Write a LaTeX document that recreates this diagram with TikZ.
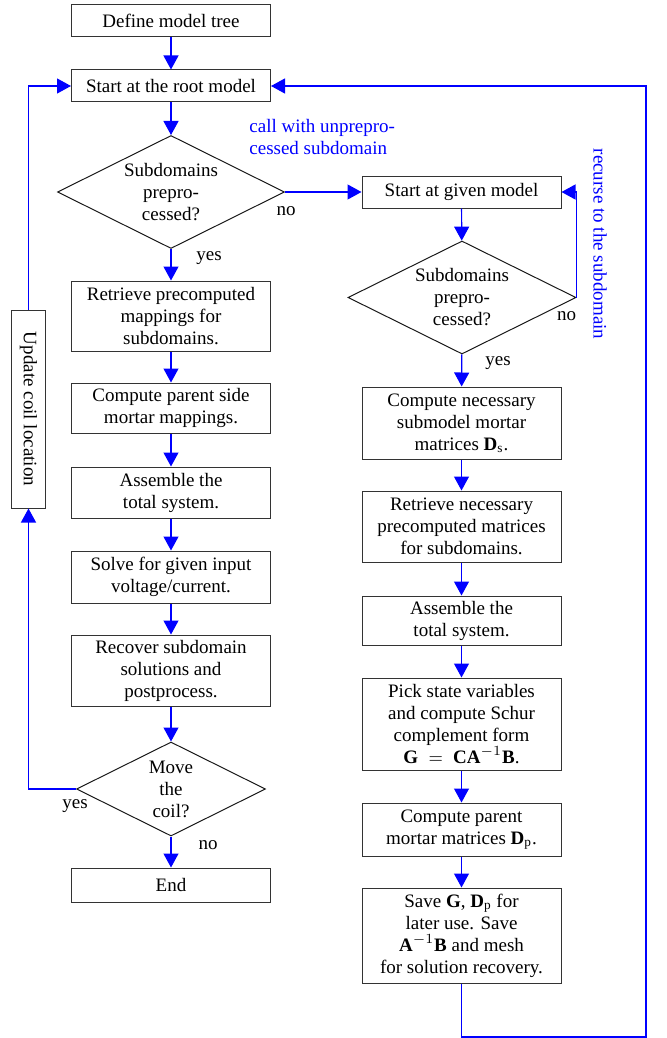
\documentclass[tikz,border=0pt]{standalone}
\usepackage{fontspec}
\setmainfont{Liberation Serif}
\usetikzlibrary{arrows.meta,shapes.geometric}

\begin{document}
\begin{tikzpicture}[x=0.5pt,y=-0.5pt,
  every node/.style={font=\fontsize{9.5}{11}\selectfont},
  box/.style={draw=black!80,line width=0.5pt,minimum width=99.5pt,inner sep=1pt,align=center},
  decide/.style={diamond,aspect=2,draw=black!90,line width=0.5pt,inner sep=0pt,align=center},
  flow/.style={draw=blue,line width=0.6pt,-{Triangle[length=7pt,width=7.5pt]}},
  lbl/.style={inner sep=0pt},
  note/.style={text=blue,inner sep=0pt}]
\useasboundingbox (0,0) rectangle (667,1038);

\node[box,minimum height=16pt] (tree) at (171,21) {Define model tree};
\node[box,minimum height=16pt] (root) at (171,86) {Start at the root model};
\node[decide,minimum width=113.5pt,minimum height=56.5pt] (sub1) at (171,192)
  {Subdomains\\ prepro-\\ cessed?};
\node[box,minimum height=35pt] (retr) at (171,316)
  {Retrieve precomputed\\ mappings for\\ subdomains.};
\node[box,minimum height=25pt] (parent) at (171,408)
  {Compute parent side\\ mortar mappings.};
\node[box,minimum height=25.5pt] (asm1) at (171,492.5)
  {Assemble the\\ total system.};
\node[box,minimum height=26pt] (solve) at (171,577)
  {Solve for given input\\ voltage/current.};
\node[box,minimum height=35.5pt] (recover) at (171,670.5)
  {Recover subdomain\\ solutions and\\ postprocess.};
\node[decide,minimum width=94.5pt,minimum height=47pt] (move) at (171,789)
  {Move\\ the\\ coil?};
\node[box,minimum height=17pt] (stop) at (171,885) {End};
\node[box,minimum width=16.75pt,minimum height=99pt] (coil) at (28.5,409)
  {\rotatebox{-90}{Update coil location}};

\node[box,minimum height=16pt] (given) at (461.5,192) {Start at given model};
\node[decide,minimum width=114pt,minimum height=56.5pt] (sub2) at (462,297.5)
  {Subdomains\\ prepro-\\ cessed?};
\node[box,minimum height=36pt] (mortar) at (461.5,423)
  {Compute necessary\\ submodel mortar\\ matrices $\mathbf{D}_\mathrm{s}$.};
\node[box,minimum height=35.5pt] (retr2) at (461.5,526.5)
  {Retrieve necessary\\ precomputed matrices\\ for subdomains.};
\node[box,minimum height=24.5pt] (asm2) at (461.5,620.5)
  {Assemble the\\ total system.};
\node[box,minimum height=46pt] (schur) at (461.5,724)
  {Pick state variables\\ and compute Schur\\ complement form\\
   $\mathbf{G}\;=\;\mathbf{C}\mathbf{A}^{-1}\mathbf{B}$.};
\node[box,minimum height=26.5pt] (pmortar) at (461.5,829.5)
  {Compute parent\\ mortar matrices $\mathbf{D}_\mathrm{p}$.};
\node[box,minimum height=47.5pt] (save) at (461.5,935.5)
  {Save $\mathbf{G}$, $\mathbf{D}_\mathrm{p}$ for\\ later use. Save\\
   $\mathbf{A}^{-1}\mathbf{B}$ and mesh\\ for solution recovery.};

\node[lbl] at ([shift={(1,19)}]sub1.east) {no};
\node[lbl] at ([shift={(38,9)}]sub1.south) {yes};
\node[lbl] at ([shift={(-10,19)}]sub2.east) {no};
\node[lbl] at ([shift={(36,9)}]sub2.south) {yes};
\node[lbl] at ([shift={(-1,17)}]move.west) {yes};
\node[lbl] at ([shift={(37,9)}]move.south) {no};
\node[note,anchor=west,align=left] (call) at (249,137.5)
  {call with unprepro-\\ cessed subdomain};
\node[note,rotate=-90] (rec) at (600,244) {recurse to the subdomain};
\coordinate (corner) at (646,1037);

\foreach \a/\b in {tree/root,root/sub1,sub1/retr,retr/parent,parent/asm1,
  asm1/solve,solve/recover,recover/move,move/stop,
  given/sub2,sub2/mortar,mortar/retr2,retr2/asm2,asm2/schur,schur/pmortar,
  pmortar/save}{%
\draw[flow] (\a) -- (\b);
}
\draw[flow] (sub1.east) -- (given.west);
\draw[flow] (sub2.east) -- (sub2.east |- given.east) -- (given.east);
\draw[flow] (move.west) -| (coil.south);
\draw[flow] (coil.north) |- (root.west);
\draw[flow] (save.south) |- (corner) |- (root.east);
\end{tikzpicture}
\end{document}
